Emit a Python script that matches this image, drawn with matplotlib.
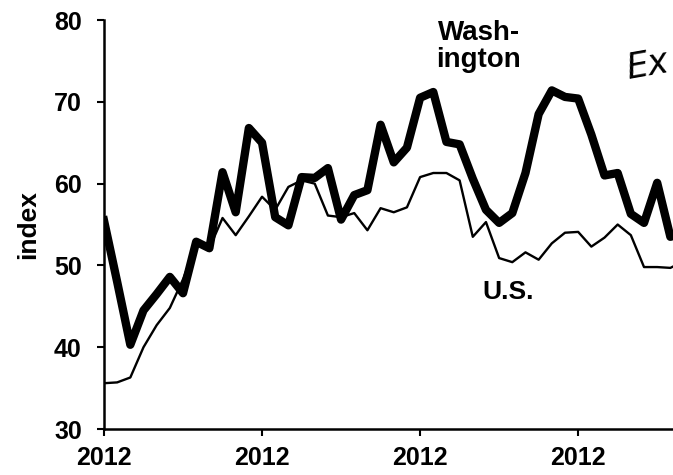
import matplotlib
matplotlib.use("Agg")
import matplotlib.pyplot as plt

months = list(range(45))
washington = [55.5, 48.0, 40.3, 44.5, 46.5, 48.6, 46.6, 52.9, 52.1, 61.4,
              56.5, 66.8, 65.0, 55.9, 54.9, 60.8, 60.7, 61.9, 55.6, 58.6,
              59.2, 67.2, 62.6, 64.4, 70.5, 71.2, 65.1, 64.8, 60.6, 56.8,
              55.2, 56.4, 61.3, 68.5, 71.4, 70.6, 70.4, 66.0, 61.0, 61.3,
              56.3, 55.2, 60.1, 53.5, 54.0]
us = [35.6, 35.7, 36.3, 40.0, 42.7, 44.8, 48.3, 52.6, 52.1, 55.8,
      53.7, 56.0, 58.4, 56.8, 59.6, 60.4, 60.0, 56.1, 55.9, 56.4,
      54.3, 57.0, 56.5, 57.1, 60.8, 61.3, 61.3, 60.4, 53.5, 55.3,
      50.9, 50.4, 51.6, 50.7, 52.7, 54.0, 54.1, 52.3, 53.4, 55.0,
      53.7, 49.8, 49.8, 49.7, 50.5]
xtick_pos = [0, 12, 24, 36]
xtick_labels = ["2012", "2012", "2012", "2012"]
ytick_vals = [30, 40, 50, 60, 70, 80]

plt.rcParams['font.family'] = ['Liberation Sans', 'DejaVu Sans']

fig = plt.figure(figsize=(6.73, 4.75), dpi=100)
ax = fig.add_axes([0.1545, 0.0968, 0.8455, 0.861])

ax.plot(months, washington, color='black', lw=6.0, solid_joinstyle='round', zorder=2)
ax.plot(months, us, color='black', lw=1.7, solid_joinstyle='round', zorder=3)

ax.set_xlim(0, 43.2)
ax.set_ylim(30, 80)
ax.set_xticks(xtick_pos)
ax.set_xticklabels(xtick_labels)
ax.set_yticks(ytick_vals)
for lab in ax.get_xticklabels() + ax.get_yticklabels():
    lab.set_fontweight('bold')
    lab.set_fontsize(18)
ax.tick_params(axis='both', direction='out', length=5, width=1.5, color='black')
ax.tick_params(axis='y', pad=11)
ax.tick_params(axis='x', pad=7)

for s in ['top', 'right']:
    ax.spines[s].set_visible(False)
for s in ['left', 'bottom']:
    ax.spines[s].set_linewidth(1.8)
ax.spines['left'].set_zorder(5)

ax.set_ylabel('index', fontsize=19, fontweight='bold', labelpad=10)

ax.text(28.45, 76.8, 'Wash-\nington', ha='center', va='center',
        fontsize=20, fontweight='bold', linespacing=1.05)
ax.text(30.7, 46.75, 'U.S.', ha='center', va='center', fontsize=19, fontweight='bold')
ax.text(39.4, 74.4, 'Ex', ha='left', va='center', fontsize=25, fontstyle='italic',
        fontweight='light', family=['DejaVu Sans'], rotation=10)

fig.savefig('out.png', dpi=100)
